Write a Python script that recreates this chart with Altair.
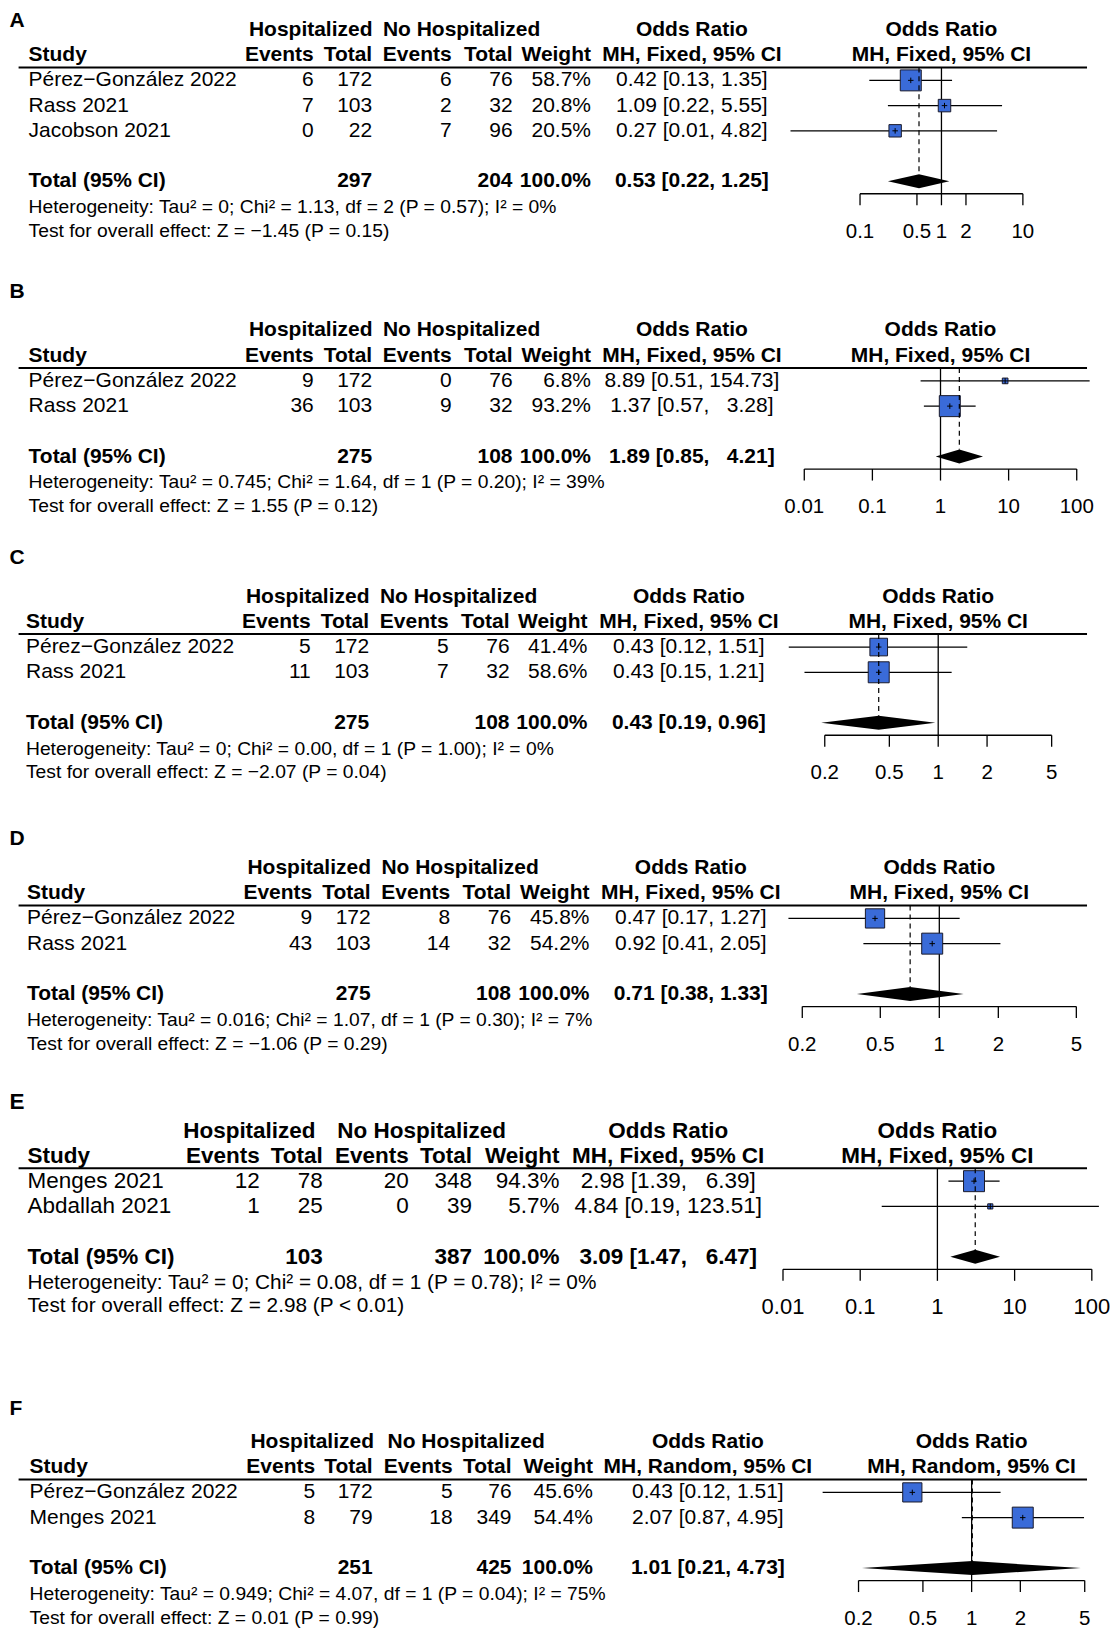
import math
import altair as alt
import pandas as pd

FONT = "Liberation Sans"
BLUE = "#3a6bd8"
MINUS = "\u2212"

# ---------------- values ----------------
A_studies = ["Pérez" + MINUS + "González 2022", "Rass 2021", "Jacobson 2021"]
A_ev_h = [6, 7, 0]
A_tot_h = [172, 103, 22]
A_ev_n = [6, 2, 7]
A_tot_n = [76, 32, 96]
A_weight = [58.7, 20.8, 20.5]
A_or = [0.42, 1.09, 0.27]
A_lo = [0.13, 0.22, 0.014]
A_hi = [1.35, 5.55, 4.82]
A_total = [297, 204, 0.53, 0.22, 1.25]
A_het = "Heterogeneity: Tau² = 0; Chi² = 1.13, df = 2 (P = 0.57); I² = 0%"
A_test = "Test for overall effect: Z = " + MINUS + "1.45 (P = 0.15)"
A_ticks = [0.1, 0.5, 1, 2, 10]
A_tick_labels = ["0.1", "0.5", "1", "2", "10"]

B_studies = ["Pérez" + MINUS + "González 2022", "Rass 2021"]
B_ev_h = [9, 36]
B_tot_h = [172, 103]
B_ev_n = [0, 9]
B_tot_n = [76, 32]
B_weight = [6.8, 93.2]
B_or = [8.89, 1.37]
B_lo = [0.51, 0.57]
B_hi = [154.73, 3.28]
B_total = [275, 108, 1.89, 0.85, 4.21]
B_het = "Heterogeneity: Tau² = 0.745; Chi² = 1.64, df = 1 (P = 0.20); I² = 39%"
B_test = "Test for overall effect: Z = 1.55 (P = 0.12)"
B_ticks = [0.01, 0.1, 1, 10, 100]
B_tick_labels = ["0.01", "0.1", "1", "10", "100"]

C_studies = ["Pérez" + MINUS + "González 2022", "Rass 2021"]
C_ev_h = [5, 11]
C_tot_h = [172, 103]
C_ev_n = [5, 7]
C_tot_n = [76, 32]
C_weight = [41.4, 58.6]
C_or = [0.43, 0.43]
C_lo = [0.12, 0.15]
C_hi = [1.51, 1.21]
C_total = [275, 108, 0.43, 0.19, 0.96]
C_het = "Heterogeneity: Tau² = 0; Chi² = 0.00, df = 1 (P = 1.00); I² = 0%"
C_test = "Test for overall effect: Z = " + MINUS + "2.07 (P = 0.04)"
C_ticks = [0.2, 0.5, 1, 2, 5]
C_tick_labels = ["0.2", "0.5", "1", "2", "5"]

D_studies = ["Pérez" + MINUS + "González 2022", "Rass 2021"]
D_ev_h = [9, 43]
D_tot_h = [172, 103]
D_ev_n = [8, 14]
D_tot_n = [76, 32]
D_weight = [45.8, 54.2]
D_or = [0.47, 0.92]
D_lo = [0.17, 0.41]
D_hi = [1.27, 2.05]
D_total = [275, 108, 0.71, 0.38, 1.33]
D_het = "Heterogeneity: Tau² = 0.016; Chi² = 1.07, df = 1 (P = 0.30); I² = 7%"
D_test = "Test for overall effect: Z = " + MINUS + "1.06 (P = 0.29)"
D_ticks = [0.2, 0.5, 1, 2, 5]
D_tick_labels = ["0.2", "0.5", "1", "2", "5"]

E_studies = ["Menges 2021", "Abdallah 2021"]
E_ev_h = [12, 1]
E_tot_h = [78, 25]
E_ev_n = [20, 0]
E_tot_n = [348, 39]
E_weight = [94.3, 5.7]
E_or = [2.98, 4.84]
E_lo = [1.39, 0.19]
E_hi = [6.39, 123.51]
E_total = [103, 387, 3.09, 1.47, 6.47]
E_het = "Heterogeneity: Tau² = 0; Chi² = 0.08, df = 1 (P = 0.78); I² = 0%"
E_test = "Test for overall effect: Z = 2.98 (P < 0.01)"
E_ticks = [0.01, 0.1, 1, 10, 100]
E_tick_labels = ["0.01", "0.1", "1", "10", "100"]

F_studies = ["Pérez" + MINUS + "González 2022", "Menges 2021"]
F_ev_h = [5, 8]
F_tot_h = [172, 79]
F_ev_n = [5, 18]
F_tot_n = [76, 349]
F_weight = [45.6, 54.4]
F_or = [0.43, 2.07]
F_lo = [0.12, 0.87]
F_hi = [1.51, 4.95]
F_total = [251, 425, 1.01, 0.21, 4.73]
F_het = "Heterogeneity: Tau² = 0.949; Chi² = 4.07, df = 1 (P = 0.04); I² = 75%"
F_test = "Test for overall effect: Z = 0.01 (P = 0.99)"
F_ticks = [0.2, 0.5, 1, 2, 5]
F_tick_labels = ["0.2", "0.5", "1", "2", "5"]

FIXED = "MH, Fixed, 95% CI"
RANDOM = "MH, Random, 95% CI"

# ---------------- layout (page pixels) ----------------
COLS_AB = dict(study=28.6, hosp=311, nohosp=462, ev1=314, tot1=372.5, ev2=452, tot2=513, w=591.5, orc=692.5)
FS_STD = dict(main=21.0, stat=19.3, tick=20.5)
FS_BIG = dict(main=22.5, stat=20.8, tick=22.0)
LAYOUT = {
    "A": dict(top=8, bottom=262, label_y=20.0, h1=29.2, cols=COLS_AB, fx=(860.8, 1023.8), fs=FS_STD),
    "B": dict(top=262, bottom=530, label_y=291.4, h1=330.0, cols=COLS_AB, fx=(805.0, 1077.7), fs=FS_STD),
    "C": dict(top=530, bottom=800, label_y=557.8, h1=596.4,
              cols=dict(study=26, hosp=308, nohosp=459, ev1=311, tot1=369.5, ev2=449, tot2=510, w=588, orc=689.5),
              fx=(825.5, 1052.6), fs=FS_STD),
    "D": dict(top=800, bottom=1075, label_y=838.7, h1=868.0,
              cols=dict(study=27, hosp=309.5, nohosp=460.5, ev1=312.5, tot1=371, ev2=450.5, tot2=511.5, w=590, orc=691.4),
              fx=(803.0, 1077.3), fs=FS_STD),
    "E": dict(top=1075, bottom=1380, label_y=1102.0, h1=1131.0,
              cols=dict(study=27.5, hosp=249.6, nohosp=422, ev1=260, tot1=323, ev2=409, tot2=472.5, w=560, orc=668.8),
              fx=(783.7, 1092.8), fs=FS_BIG),
    "F": dict(top=1380, bottom=1629, label_y=1410.0, h1=1442.5,
              cols=dict(study=29.6, hosp=312.5, nohosp=466.6, ev1=315.4, tot1=373, ev2=453, tot2=512, w=593.5, orc=708.5),
              fx=(859.3, 1085.7), fs=FS_STD),
}
PITCH = 25.25
RULE_X = (18.6, 1088.0)
SQ_MAX = 21.0
NBSP = "\u00a0"


def or_strings(est, lo, hi):
    los = [f"{v:.2f}" for v in lo]
    his = [f"{v:.2f}" for v in hi]
    wl = max(len(s) for s in los)
    wh = max(len(s) for s in his)
    return [f"{e:.2f} [" + NBSP * (wl - len(l)) + l + ", " + NBSP * (wh - len(h)) + h + "]"
            for e, l, h in zip(est, los, his)]


def build(label, studies, ev_h, tot_h, ev_n, tot_n, weight, est, lo, hi, total,
          het, test, ticks, tick_labels, method):
    L = LAYOUT[label]
    fs = L["fs"]
    T = L["top"]
    H = L["bottom"] - T
    X = lambda px: px - 8
    Y = lambda py: py - T
    c = L["cols"]
    h1 = L["h1"]
    h2 = h1 + PITCH
    yline = h1 + 37.5
    n = len(studies)
    rows = [h1 + (2 + i) * PITCH for i in range(n)]
    ytot = h1 + (3 + n) * PITCH
    yhet = ytot + 25.8
    ytest = ytot + 49.5
    yaxis = ytot + 12.5
    ytick = yaxis + 11.5
    ylab = ytot + 50.5

    t_h, t_n, t_or, t_lo, t_hi = total
    ors = or_strings(est + [t_or], lo + [t_lo], hi + [t_hi])

    texts = []

    def add(x, y, t, a, b, kind="main"):
        texts.append(dict(x=X(x), y=Y(y), t=t, align=a, bold=b, kind=kind))

    add(9.5, L["label_y"], label, "left", True)
    add(c["hosp"], h1, "Hospitalized", "center", True)
    add(c["nohosp"], h1, "No Hospitalized", "center", True)
    add(c["orc"], h1, "Odds Ratio", "center", True)
    add(c["study"], h2, "Study", "left", True)
    add(c["ev1"], h2, "Events", "right", True)
    add(c["tot1"], h2, "Total", "right", True)
    add(c["ev2"], h2, "Events", "right", True)
    add(c["tot2"], h2, "Total", "right", True)
    add(c["w"], h2, "Weight", "right", True)
    add(c["orc"], h2, method, "center", True)
    for i in range(n):
        y = rows[i]
        add(c["study"], y, studies[i], "left", False)
        add(c["ev1"], y, str(ev_h[i]), "right", False)
        add(c["tot1"], y, str(tot_h[i]), "right", False)
        add(c["ev2"], y, str(ev_n[i]), "right", False)
        add(c["tot2"], y, str(tot_n[i]), "right", False)
        add(c["w"], y, f"{weight[i]:.1f}%", "right", False)
        add(c["orc"], y, ors[i], "center", False)
    add(c["study"], ytot, "Total (95% CI)", "left", True)
    add(c["tot1"], ytot, str(t_h), "right", True)
    add(c["tot2"], ytot, str(t_n), "right", True)
    add(c["w"], ytot, "100.0%", "right", True)
    add(c["orc"], ytot, ors[-1], "center", True)
    add(c["study"], yhet, het, "left", False, "stat")
    add(c["study"], ytest, test, "left", False, "stat")
    tdf = pd.DataFrame(texts)

    xs = alt.Scale(type="log", domain=[ticks[0], ticks[-1]], range=[X(L["fx"][0]), X(L["fx"][1])], nice=False)

    def fx(f):
        return alt.X(f, type="quantitative", scale=xs, axis=None)

    def py(f):
        return alt.Y(f, type="quantitative", scale=None, axis=None)

    def px(f):
        return alt.X(f, type="quantitative", scale=None, axis=None)

    layers = []
    # header rule
    layers.append(alt.Chart(pd.DataFrame([dict(x=X(RULE_X[0]), x2=X(RULE_X[1]), y=Y(yline))]))
                  .mark_rule(color="black", strokeWidth=2).encode(x=px("x"), x2="x2:Q", y=py("y")))
    # line of no effect
    layers.append(alt.Chart(pd.DataFrame([dict(v=1.0, y=Y(yline), y2=Y(yaxis))]))
                  .mark_rule(color="black", strokeWidth=1.3).encode(x=fx("v"), y=py("y"), y2="y2:Q"))
    wmax = max(weight)
    sdf = pd.DataFrame(dict(est=est, lo=lo, hi=hi, y=[Y(v) for v in rows],
                            sz=[(SQ_MAX * math.sqrt(w / wmax)) ** 2 for w in weight]))
    layers.append(alt.Chart(sdf).mark_rule(color="black", strokeWidth=1.3)
                  .encode(x=fx("lo"), x2="hi:Q", y=py("y")))
    layers.append(alt.Chart(sdf).mark_square(fill=BLUE, stroke="#1a1a2a", strokeWidth=1, opacity=1)
                  .encode(x=fx("est"), y=py("y"), size=alt.Size("sz:Q", scale=None, legend=None)))
    # pooled estimate dashed line
    layers.append(alt.Chart(pd.DataFrame([dict(v=t_or, y=Y(yline), y2=Y(ytot) - 7)]))
                  .mark_rule(color="black", strokeWidth=1.2, strokeDash=[5, 4])
                  .encode(x=fx("v"), y=py("y"), y2="y2:Q"))
    layers.append(alt.Chart(sdf).mark_point(shape="M-1,0H1M0,-1V1", size=30, filled=False,
                                            color="black", strokeWidth=1, opacity=1)
                  .encode(x=fx("est"), y=py("y")))
    # diamond
    yt = Y(ytot)
    ddf = pd.DataFrame(dict(v=[t_lo, t_or, t_hi], y=[yt, yt - 7, yt], y2=[yt, yt + 7, yt]))
    layers.append(alt.Chart(ddf).mark_area(color="black", orient="vertical", opacity=1)
                  .encode(x=fx("v"), y=py("y"), y2="y2:Q"))
    # axis
    layers.append(alt.Chart(pd.DataFrame([dict(a=ticks[0], b=ticks[-1], y=Y(yaxis))]))
                  .mark_rule(color="black", strokeWidth=1.3).encode(x=fx("a"), x2="b:Q", y=py("y")))
    kdf = pd.DataFrame(dict(v=ticks, lab=tick_labels, y=[Y(yaxis)] * len(ticks),
                            y2=[Y(ytick)] * len(ticks), yl=[Y(ylab)] * len(ticks)))
    layers.append(alt.Chart(kdf).mark_rule(color="black", strokeWidth=1.3)
                  .encode(x=fx("v"), y=py("y"), y2="y2:Q"))
    layers.append(alt.Chart(kdf).mark_text(font=FONT, fontSize=fs["tick"], align="center",
                                           baseline="middle", color="black")
                  .encode(x=fx("v"), y=py("yl"), text="lab:N"))
    # forest header
    fh = pd.DataFrame(dict(v=[1.0, 1.0], y=[Y(h1), Y(h2)], t=["Odds Ratio", method]))
    layers.append(alt.Chart(fh).mark_text(font=FONT, fontSize=fs["main"], fontWeight="bold", align="center",
                                          baseline="middle", color="black")
                  .encode(x=fx("v"), y=py("y"), text="t:N"))
    # table text
    for kind in ["main", "stat"]:
        for a in ["left", "center", "right"]:
            for b in [False, True]:
                sub = tdf[(tdf["align"] == a) & (tdf["bold"] == b) & (tdf["kind"] == kind)]
                if len(sub) == 0:
                    continue
                layers.append(alt.Chart(sub[["x", "y", "t"]]).mark_text(
                    font=FONT, fontSize=fs[kind], fontWeight="bold" if b else "normal",
                    align=a, baseline="middle", color="black")
                    .encode(x=px("x"), y=py("y"), text="t:N"))
    return alt.layer(*layers).properties(width=1103, height=H)


panels = [
    build("A", A_studies, A_ev_h, A_tot_h, A_ev_n, A_tot_n, A_weight, A_or, A_lo, A_hi, A_total,
          A_het, A_test, A_ticks, A_tick_labels, FIXED),
    build("B", B_studies, B_ev_h, B_tot_h, B_ev_n, B_tot_n, B_weight, B_or, B_lo, B_hi, B_total,
          B_het, B_test, B_ticks, B_tick_labels, FIXED),
    build("C", C_studies, C_ev_h, C_tot_h, C_ev_n, C_tot_n, C_weight, C_or, C_lo, C_hi, C_total,
          C_het, C_test, C_ticks, C_tick_labels, FIXED),
    build("D", D_studies, D_ev_h, D_tot_h, D_ev_n, D_tot_n, D_weight, D_or, D_lo, D_hi, D_total,
          D_het, D_test, D_ticks, D_tick_labels, FIXED),
    build("E", E_studies, E_ev_h, E_tot_h, E_ev_n, E_tot_n, E_weight, E_or, E_lo, E_hi, E_total,
          E_het, E_test, E_ticks, E_tick_labels, FIXED),
    build("F", F_studies, F_ev_h, F_tot_h, F_ev_n, F_tot_n, F_weight, F_or, F_lo, F_hi, F_total,
          F_het, F_test, F_ticks, F_tick_labels, RANDOM),
]

chart = (alt.vconcat(*panels, spacing=0)
         .properties(padding=0, background="white")
         .configure_view(stroke=None))

chart.save("out.html", embed_options={"renderer": "svg", "actions": False})
